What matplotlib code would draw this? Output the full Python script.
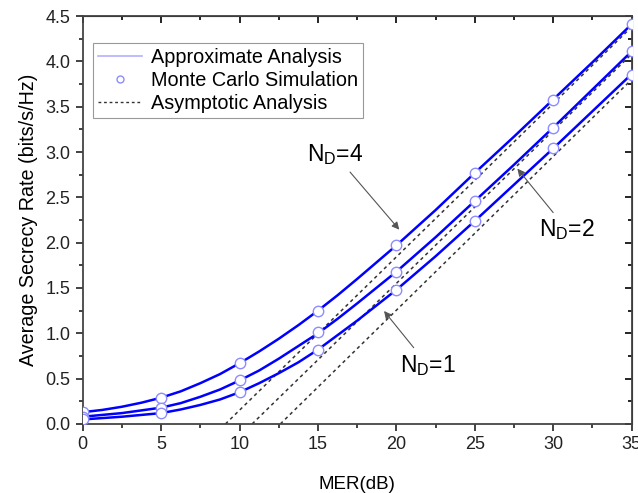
import matplotlib
matplotlib.use("Agg")
import matplotlib.pyplot as plt
from matplotlib.lines import Line2D
from matplotlib.ticker import MultipleLocator, FormatStrFormatter

plt.rcParams['font.family'] = ['Liberation Sans', 'DejaVu Sans']

# MER grid (dB)
mer = [0, 1.25, 2.5, 3.75, 5, 6.25, 7.5, 8.75, 10, 11.25, 12.5, 13.75, 15, 16.25, 17.5,
       20, 22.5, 25, 27.5, 30, 32.5, 35]
rate_nd4 = [0.13, 0.155, 0.19, 0.235, 0.29, 0.36, 0.45, 0.55, 0.67, 0.80, 0.94, 1.09, 1.25, 1.42, 1.60,
            1.97, 2.36, 2.77, 3.17, 3.58, 3.99, 4.41]
rate_nd2 = [0.08, 0.10, 0.12, 0.15, 0.18, 0.23, 0.30, 0.38, 0.48, 0.59, 0.72, 0.86, 1.00, 1.16, 1.33,
            1.68, 2.06, 2.46, 2.86, 3.27, 3.69, 4.11]
rate_nd1 = [0.05, 0.065, 0.08, 0.10, 0.12, 0.16, 0.21, 0.27, 0.35, 0.45, 0.56, 0.68, 0.82, 0.98, 1.14,
            1.48, 1.85, 2.24, 2.64, 3.04, 3.45, 3.86]

# Monte Carlo points every 5 dB
mc_mer = [0, 5, 10, 15, 20, 25, 30, 35]
mc_nd4 = [0.13, 0.29, 0.67, 1.25, 1.97, 2.77, 3.57, 4.41]
mc_nd2 = [0.08, 0.18, 0.48, 1.01, 1.68, 2.46, 3.27, 4.11]
mc_nd1 = [0.05, 0.12, 0.35, 0.82, 1.48, 2.24, 3.04, 3.85]

# asymptotic lines: (start MER where rate = 0, rate at 35 dB)
asym_start = [9.1, 10.8, 12.6]
asym_end = [4.38, 4.08, 3.80]

fig = plt.figure(figsize=(6.38, 4.93), dpi=100)
ax = fig.add_axes([0.1296, 0.140, 0.8605, 0.8275])

blue = '#0000ff'
for y in [rate_nd4, rate_nd2, rate_nd1]:
    ax.plot(mer, y, color=blue, lw=1.8, zorder=3)
for y in [mc_nd4, mc_nd2, mc_nd1]:
    ax.plot(mc_mer, y, 'o', ms=7.5, mfc='white', mec='#8c8cff', mew=1.0, zorder=4)
for x0, y1 in zip(asym_start, asym_end):
    ax.plot([x0, 35], [0, y1], color='#333333', lw=1.1, ls=(0, (2.2, 2.2)), zorder=2)

ax.set_xlim(0, 35)
ax.set_ylim(0, 4.5)
ax.xaxis.set_major_locator(MultipleLocator(5))
ax.xaxis.set_minor_locator(MultipleLocator(2.5))
ax.yaxis.set_major_locator(MultipleLocator(0.5))
ax.yaxis.set_minor_locator(MultipleLocator(0.25))
ax.yaxis.set_major_formatter(FormatStrFormatter('%.1f'))
ax.tick_params(which='both', direction='out', labelsize=13, width=1.2, colors='#222222')
ax.tick_params(which='major', length=5, pad=4)
ax.tick_params(which='minor', length=3)
for s in ax.spines.values():
    s.set_linewidth(1.3)
    s.set_color('#444444')

# inward ticks on top and right, no labels
top = ax.secondary_xaxis('top')
top.xaxis.set_major_locator(MultipleLocator(5))
top.xaxis.set_minor_locator(MultipleLocator(2.5))
top.tick_params(which='both', direction='in', labeltop=False, width=1.2)
top.tick_params(which='major', length=5)
top.tick_params(which='minor', length=3)
right = ax.secondary_yaxis('right')
right.yaxis.set_major_locator(MultipleLocator(0.5))
right.yaxis.set_minor_locator(MultipleLocator(0.25))
right.tick_params(which='both', direction='in', labelright=False, width=1.2)
right.tick_params(which='major', length=5)
right.tick_params(which='minor', length=3)

ax.set_xlabel('MER(dB)', fontsize=13.5, labelpad=16)
ax.set_ylabel('Average Secrecy Rate (bits/s/Hz)', fontsize=14.2, labelpad=5)

handles = [
    Line2D([], [], color='#b0b0ff', lw=1.2),
    Line2D([], [], ls='none', marker='o', ms=5, mfc='white', mec='#8c8cff'),
    Line2D([], [], color='#333333', lw=1.0, ls=(0, (2, 2))),
]
labels = ['Approximate Analysis', 'Monte Carlo Simulation', 'Asymptotic Analysis']
leg = ax.legend(handles, labels, loc='upper left', bbox_to_anchor=(0.019, 0.934),
                fontsize=14.3, fancybox=False, edgecolor='#999999', framealpha=1,
                borderpad=0.25, labelspacing=0.2, handlelength=2.2, handletextpad=0.45,
                borderaxespad=0)
leg.get_frame().set_linewidth(0.8)

arrow = dict(arrowstyle='-|>', color='#555555', lw=0.8, mutation_scale=11)
ax.annotate('N$_\\mathregular{D}$=4', xy=(20.3, 2.12), xytext=(16.1, 2.97),
            fontsize=16.5, ha='center', va='center', arrowprops=arrow)
ax.annotate('N$_\\mathregular{D}$=2', xy=(27.6, 2.84), xytext=(30.9, 2.14),
            fontsize=16.5, ha='center', va='center', arrowprops=arrow)
ax.annotate('N$_\\mathregular{D}$=1', xy=(19.1, 1.27), xytext=(22.0, 0.65),
            fontsize=16.5, ha='center', va='center', arrowprops=arrow)

fig.savefig('out.png', dpi=100)
